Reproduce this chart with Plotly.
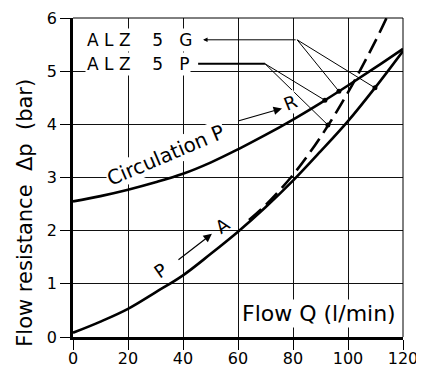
import numpy as np
import plotly.graph_objects as go

# ---- data ----
flow = [0, 10, 20, 30, 40, 50, 60, 70, 80, 90, 100, 110, 120]
circulation_p_r = [2.55, 2.65, 2.77, 2.91, 3.07, 3.28, 3.53, 3.80, 4.09, 4.40, 4.73, 5.07, 5.42]
p_to_a = [0.08, 0.29, 0.53, 0.84, 1.16, 1.56, 1.98, 2.44, 2.94, 3.49, 4.06, 4.70, 5.38]
dash_flow = [64, 70, 80, 90, 100, 110, 114]
dash_dp = [2.20, 2.48, 3.05, 3.76, 4.60, 5.57, 6.00]

x_ticks = [0, 20, 40, 60, 80, 100, 120]
y_ticks = [0, 1, 2, 3, 4, 5, 6]

FONT = "DejaVu Sans"
NB = "\u00a0"

fig = go.Figure()
fig.add_trace(go.Scatter(x=flow, y=circulation_p_r, mode="lines",
                         line=dict(color="black", width=2.6, shape="spline"),
                         showlegend=False, hoverinfo="skip"))
fig.add_trace(go.Scatter(x=flow, y=p_to_a, mode="lines",
                         line=dict(color="black", width=2.6, shape="spline"),
                         showlegend=False, hoverinfo="skip"))
fig.add_trace(go.Scatter(x=dash_flow, y=dash_dp, mode="lines",
                         line=dict(color="black", width=2.6, dash="16px,7px", shape="spline"),
                         showlegend=False, hoverinfo="skip", cliponaxis=True))

# leader-line targets on the curves
g_targets = [(96.7, float(np.interp(96.7, flow, circulation_p_r))),
             (109.8, float(np.interp(109.8, flow, p_to_a)))]
p_targets = [(91.6, float(np.interp(91.6, flow, circulation_p_r))),
             (92.7, float(np.interp(92.7, dash_flow, dash_dp)))]
g_corner = (81.5, 5.59)
p_corner = (69.8, 5.14)

shapes = []
for tx, ty in g_targets:
    shapes.append(dict(type="line", xref="x", yref="y", x0=g_corner[0], y0=g_corner[1],
                       x1=tx, y1=ty, line=dict(color="black", width=1)))
for tx, ty in p_targets:
    shapes.append(dict(type="line", xref="x", yref="y", x0=p_corner[0], y0=p_corner[1],
                       x1=tx, y1=ty, line=dict(color="black", width=1)))
shapes.append(dict(type="line", xref="x", yref="y", x0=45.5, y0=p_corner[1],
                   x1=p_corner[0], y1=p_corner[1], line=dict(color="black", width=2)))
# top / right frame
shapes.append(dict(type="line", xref="paper", yref="paper", x0=0, y0=1, x1=1, y1=1,
                   line=dict(color="black", width=1)))
shapes.append(dict(type="line", xref="paper", yref="paper", x0=1, y0=0, x1=1, y1=1,
                   line=dict(color="black", width=1)))

fig.add_trace(go.Scatter(x=[t[0] for t in g_targets + p_targets],
                         y=[t[1] for t in g_targets + p_targets],
                         mode="markers", marker=dict(color="black", size=5),
                         showlegend=False, hoverinfo="skip"))

ann = []
ann.append(dict(x=47.3, y=g_corner[1], ax=g_corner[0], ay=g_corner[1], xref="x", yref="y",
                axref="x", ayref="y", text="", showarrow=True, arrowhead=2, arrowsize=0.9,
                arrowwidth=1, arrowcolor="black"))
ann.append(dict(x=4.5, y=5.59, xref="x", yref="y", xanchor="left", yanchor="middle",
                text=f"A{NB}L{NB}Z{NB*4}5{NB*3}G", showarrow=False,
                font=dict(family=FONT, size=17, color="black"), bgcolor="white", borderpad=1))
ann.append(dict(x=4.5, y=5.14, xref="x", yref="y", xanchor="left", yanchor="middle",
                text=f"A{NB}L{NB}Z{NB*4}5{NB*3}P", showarrow=False,
                font=dict(family=FONT, size=17, color="black"), bgcolor="white", borderpad=1))
ann.append(dict(x=33.8, y=3.42, xref="x", yref="y", text=f"Circulation{NB}P", showarrow=False,
                textangle=-23, font=dict(family=FONT, size=20, color="black"),
                bgcolor="white", borderpad=0))
ann.append(dict(x=76, y=4.3, ax=59.8, ay=4.06, xref="x", yref="y", axref="x", ayref="y",
                text="", showarrow=True, arrowhead=2, arrowsize=1.4, arrowwidth=1.2,
                arrowcolor="black"))
ann.append(dict(x=79.2, y=4.42, xref="x", yref="y", text="R", showarrow=False, textangle=-22,
                font=dict(family=FONT, size=18, color="black"), bgcolor="white", borderpad=0))
ann.append(dict(x=50.5, y=1.94, ax=37.8, ay=1.43, xref="x", yref="y", axref="x", ayref="y",
                text="", showarrow=True, arrowhead=2, arrowsize=1.4, arrowwidth=1.2,
                arrowcolor="black"))
ann.append(dict(x=31.8, y=1.25, xref="x", yref="y", text="P", showarrow=False, textangle=-35,
                font=dict(family=FONT, size=18, color="black")))
ann.append(dict(x=54.4, y=2.1, xref="x", yref="y", text="A", showarrow=False, textangle=-35,
                font=dict(family=FONT, size=18, color="black")))
ann.append(dict(x=118.0, y=0.45, xref="x", yref="y", xanchor="right", yanchor="middle",
                text=f"Flow{NB}Q{NB}(l/min)", showarrow=False,
                font=dict(family=FONT, size=22, color="black"), bgcolor="white", borderpad=1))
ann.append(dict(x=-0.148, y=0.39, xref="paper", yref="paper",
                text=f"Flow resistance{NB}{NB}\u0394p{NB}{NB}(bar)",
                showarrow=False, textangle=-90, xanchor="center", yanchor="middle",
                font=dict(family=FONT, size=21, color="black")))

axis_common = dict(showgrid=True, gridcolor="#111", gridwidth=1, zeroline=False,
                   showline=True, linecolor="black", linewidth=2.8,
                   ticks="outside", ticklen=10, tickwidth=1.2, tickcolor="black",
                   tickfont=dict(family=FONT, size=16, color="black"),
                   ticklabeloverflow="allow",
                   fixedrange=True, automargin=False)

# the page adds an 8px body margin, so the figure is 8px smaller on each side
fig.update_layout(
    width=416, height=361,
    margin=dict(l=65, r=21, t=10, b=32, autoexpand=False),
    paper_bgcolor="white", plot_bgcolor="white",
    shapes=shapes, annotations=ann,
    xaxis=dict(range=[0, 120], tickvals=x_ticks, ticktext=[str(v) for v in x_ticks],
               ticklabelstandoff=-5, **axis_common),
    yaxis=dict(range=[0, 6], tickvals=y_ticks, ticktext=[str(v) for v in y_ticks],
               **axis_common),
)

fig.write_html("out.html")
